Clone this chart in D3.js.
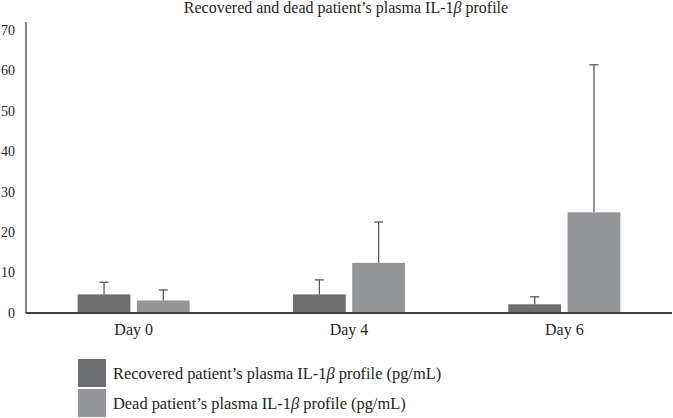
<!DOCTYPE html>
<html><head><meta charset="utf-8">
<script src="https://cdn.jsdelivr.net/npm/d3@7"></script>
<style>body{margin:0;background:#fff}svg{display:block}text{font-family:"Liberation Serif","DejaVu Serif",serif;fill:#231f20}</style>
</head><body>
<script>
const categories = ["Day 0", "Day 4", "Day 6"];
const seriesNames = ["Recovered", "Dead"];
const recovered = [4.6, 4.6, 2.15];
const recoveredErr = [3.0, 3.6, 1.85];
const dead = [3.1, 12.4, 24.9];
const deadErr = [2.6, 10.1, 36.5];
const yTicks = [0, 10, 20, 30, 40, 50, 60, 70];
const colors = ["#6d6e71", "#939598"];

const W = 673, H = 418;
const svg = d3.select("body").append("svg").attr("width", W).attr("height", H);
const x0 = 26, x1 = 672, yTop = 30, yBot = 313;
const x = d3.scaleBand().domain(categories).range([x0, x1]).paddingInner(0).paddingOuter(0);
const xs = d3.scaleBand().domain(seriesNames).range([0, 112]).paddingInner(0.11);
const y = d3.scaleLinear().domain([0, 70]).range([yBot, yTop]);

const data = [recovered, dead];
const errs = [recoveredErr, deadErr];

// title
const t = svg.append("text").attr("x", 346).attr("y", 13).attr("text-anchor", "middle").attr("font-size", 16);
t.append("tspan").text("Recovered and dead patient’s plasma IL-1");
t.append("tspan").attr("font-style", "italic").text("β");
t.append("tspan").text(" profile");

// y axis
svg.append("line").attr("x1", x0).attr("x2", x0).attr("y1", 22).attr("y2", yBot).attr("stroke", "#58595b").attr("stroke-width", 1.5);
svg.selectAll(".yt").data(yTicks).enter().append("text")
  .attr("x", 15).attr("y", d => y(d)).attr("dy", "0.35em").attr("text-anchor", "end").attr("font-size", 14).text(d => d);

// bars
seriesNames.forEach((s, si) => {
  categories.forEach((c, ci) => {
    const bx = x(c) + x.bandwidth() / 2 - 56 + xs(s);
    const bw = xs.bandwidth();
    svg.append("rect").attr("x", bx).attr("y", y(data[si][ci])).attr("width", bw)
      .attr("height", yBot - y(data[si][ci])).attr("fill", colors[si]);
    const cx = bx + bw / 2;
    const top = y(data[si][ci] + errs[si][ci]);
    svg.append("line").attr("x1", cx).attr("x2", cx).attr("y1", y(data[si][ci])).attr("y2", top).attr("stroke", "#58595b").attr("stroke-width", 1.3);
    svg.append("line").attr("x1", cx - 4.5).attr("x2", cx + 4.5).attr("y1", top).attr("y2", top).attr("stroke", "#58595b").attr("stroke-width", 1.3);
  });
});

// x axis
svg.append("line").attr("x1", x0).attr("x2", x1).attr("y1", yBot).attr("y2", yBot).attr("stroke", "#414042").attr("stroke-width", 1.8);
svg.selectAll(".xt").data(categories).enter().append("text")
  .attr("x", d => x(d) + x.bandwidth() / 2).attr("y", 335).attr("text-anchor", "middle").attr("font-size", 16).text(d => d);

// legend
const legendLabels = ["Recovered patient’s plasma IL-1", "Dead patient’s plasma IL-1"];
legendLabels.forEach((l, i) => {
  const ly = 359 + i * 30;
  svg.append("rect").attr("x", 78).attr("y", ly).attr("width", 28).attr("height", 28).attr("fill", colors[i]);
  const tt = svg.append("text").attr("x", 113).attr("y", ly + 14).attr("dy", "0.35em").attr("font-size", 16.4);
  tt.append("tspan").text(l);
  tt.append("tspan").attr("font-style", "italic").text("β");
  tt.append("tspan").text(" profile (pg/mL)");
});
</script>
</body></html>
